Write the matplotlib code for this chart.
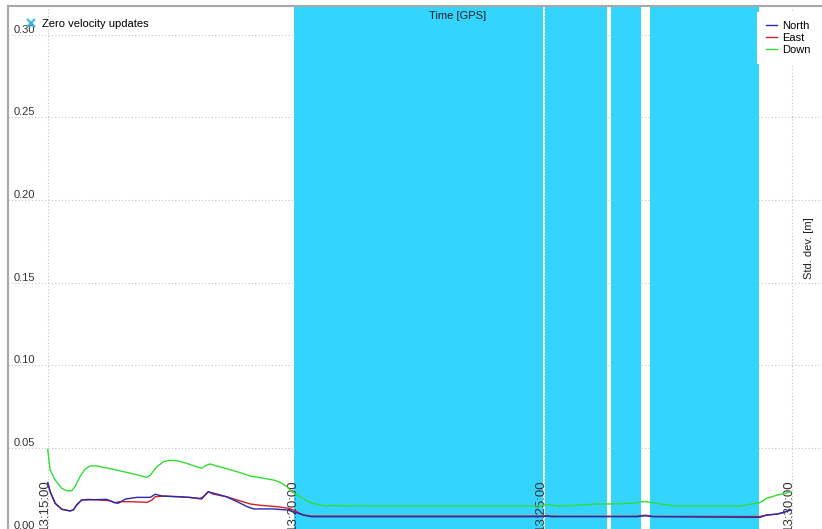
import matplotlib
matplotlib.use("Agg")
import matplotlib.pyplot as plt
import matplotlib.transforms as mtransforms
from matplotlib.lines import Line2D
import pandas as pd

plt.rcParams['font.family'] = ['Liberation Sans', 'DejaVu Sans']
plt.rcParams['font.size'] = 8

BASE = pd.Timestamp("2020-01-01 13:15:00")

# Down std. dev. [m] vs seconds after 13:15:00
down_t = [0, 3, 9, 17, 23, 29, 33, 39, 45, 51, 59, 79, 100, 120, 124, 132, 140, 147,
          156, 168, 180, 186, 190, 196, 208, 229, 245, 257, 273, 281, 289, 295, 299,
          305, 317, 333, 402, 595, 603, 616, 632, 664, 680, 704, 722, 736, 757, 837,
          861, 869, 882, 892, 898]
down_v = [0.0492, 0.0366, 0.0306, 0.0256, 0.0241, 0.0241, 0.0266, 0.0326, 0.0371,
          0.0391, 0.0391, 0.0371, 0.0347, 0.0322, 0.0336, 0.0386, 0.0417, 0.0425,
          0.0423, 0.0407, 0.0386, 0.0377, 0.0391, 0.0403, 0.0386, 0.0356, 0.0330,
          0.0320, 0.0306, 0.0292, 0.0266, 0.0235, 0.0224, 0.0205, 0.0169, 0.0151,
          0.0149, 0.0149, 0.0157, 0.0149, 0.0151, 0.0161, 0.0161, 0.0165, 0.0176,
          0.0165, 0.0149, 0.0149, 0.0169, 0.0195, 0.0215, 0.0226, 0.0235]

# East std. dev. [m]
east_t = [0, 3, 9, 17, 27, 31, 35, 41, 49, 75, 81, 87, 100, 120, 126, 130, 140, 160,
          184, 188, 194, 200, 216, 233, 245, 257, 277, 291, 297, 309, 319, 595, 603,
          610, 617, 712, 722, 732, 861, 869, 882, 892, 898]
east_v = [0.0290, 0.0235, 0.0165, 0.0129, 0.0119, 0.0125, 0.0155, 0.0185, 0.0189,
          0.0181, 0.0169, 0.0175, 0.0175, 0.0171, 0.0185, 0.0205, 0.0209, 0.0205,
          0.0195, 0.0205, 0.0235, 0.0221, 0.0205, 0.0179, 0.0161, 0.0153, 0.0145,
          0.0135, 0.0125, 0.0094, 0.0088, 0.0088, 0.0090, 0.0088, 0.0087, 0.0087,
          0.0093, 0.0086, 0.0085, 0.0094, 0.0100, 0.0114, 0.0125]

# North std. dev. [m]
north_t = [0, 3, 9, 17, 27, 31, 35, 41, 71, 81, 85, 94, 108, 124, 130, 138, 172,
           186, 194, 216, 229, 241, 249, 273, 289, 297, 309, 319, 595, 603, 610,
           617, 712, 722, 732, 861, 869, 882, 892, 898]
north_v = [0.0290, 0.0235, 0.0165, 0.0129, 0.0119, 0.0125, 0.0155, 0.0185, 0.0189,
           0.0169, 0.0165, 0.0191, 0.0201, 0.0201, 0.0220, 0.0209, 0.0201, 0.0191,
           0.0235, 0.0205, 0.0175, 0.0145, 0.0131, 0.0131, 0.0125, 0.0114, 0.0094,
           0.0084, 0.0084, 0.0087, 0.0084, 0.0084, 0.0084, 0.0090, 0.0084, 0.0080,
           0.0094, 0.0100, 0.0114, 0.0125]

# Zero velocity update intervals (seconds after 13:15:00)
zupt_start = [297.8, 601.3, 680.8, 728.3]
zupt_end = [598.3, 676.7, 717.4, 860.1]

x_ticks = ["13:15:00", "13:20:00", "13:25:00", "13:30:00"]
y_ticks = [0.00, 0.05, 0.10, 0.15, 0.20, 0.25, 0.30]
x_range = (-48, 936)
y_range = (0.0, 0.3173)


def to_time(seconds):
    return BASE + pd.to_timedelta(seconds, unit="s")


W, H = 822, 529
fig = plt.figure(figsize=(W / 100, H / 100), dpi=100)
ax_l, ax_r, ax_t, ax_b = 8, 822, 6, 530.6
ax = fig.add_axes([ax_l / W, (H - ax_b) / H, (ax_r - ax_l) / W, (ax_b - ax_t) / H])

ax.set_xlim(to_time(x_range[0]), to_time(x_range[1]))
ax.set_ylim(*y_range)

tick_times = [pd.Timestamp(f"2020-01-01 {s}") for s in x_ticks]

# dotted grid sits underneath the shaded intervals
grid_kw = dict(color="#c4c4c4", ls=(0, (1, 2)), lw=0.8, zorder=0)
for t in tick_times:
    ax.axvline(t, **grid_kw)
for v in y_ticks:
    ax.axhline(v, **grid_kw)

span_color = "#33d4fe"
for s, e in zip(zupt_start, zupt_end):
    ax.axvspan(to_time(s), to_time(e), color=span_color, lw=0, zorder=1)

ax.plot(to_time(down_t), down_v, color="#33dd33", lw=1.0, zorder=3)
ax.plot(to_time(east_t), east_v, color="#cc2222", lw=1.0, zorder=3)
ax.plot(to_time(north_t), north_v, color="#2a2aa8", lw=1.0, zorder=3)

ax.set_xticks(tick_times)
ax.set_xticklabels(x_ticks)
ax.set_yticks(y_ticks)
ax.set_yticklabels([f"{v:.2f}" for v in y_ticks])

ax.tick_params(axis="x", length=0, pad=0, labelcolor="#333333", labelsize=9.5)
ax.tick_params(axis="y", length=0, pad=-4, labelcolor="#333333", labelsize=8)
shift = mtransforms.ScaledTranslation(3 / 100, 0, fig.dpi_scale_trans)
for lbl in ax.get_xticklabels():
    lbl.set_rotation(90)
    lbl.set_ha("right")
    lbl.set_va("bottom")
    lbl.set_transform(lbl.get_transform() + shift)
for lbl in ax.get_yticklabels():
    lbl.set_ha("left")
    lbl.set_va("bottom")

for side in ("right", "bottom"):
    ax.spines[side].set_visible(False)
for side in ("left", "top"):
    ax.spines[side].set_color("#a8a8a8")
    ax.spines[side].set_linewidth(1.5)

ax.set_xlabel("Time [GPS]", color="#222222")
ax.xaxis.set_label_position("top")
ax.xaxis.set_label_coords((458 - ax_l) / (ax_r - ax_l), (ax_b - 16) / (ax_b - ax_t))
ax.xaxis.label.set_va("center")
ax.set_ylabel("Std. dev. [m]", color="#222222")
ax.yaxis.set_label_coords((809 - ax_l) / (ax_r - ax_l), (ax_b - 248) / (ax_b - ax_t))
ax.yaxis.label.set_va("center")
ax.yaxis.label.set_ha("center")

zupt_handle = Line2D([], [], marker="x", ls="none", color="#38b6e6",
                     markersize=6, markeredgewidth=1.5)
leg1 = ax.legend([zupt_handle], ["Zero velocity updates"], loc="upper left",
                 bbox_to_anchor=(25.5 / W, (H - 19) / H),
                 bbox_transform=fig.transFigure, frameon=False,
                 borderpad=0, borderaxespad=0, handlelength=1.0, handletextpad=0.5)
leg1.set_zorder(6)
ax.add_artist(leg1)

line_handles = [Line2D([], [], color="#2a2aa8", lw=1.0),
                Line2D([], [], color="#cc2222", lw=1.0),
                Line2D([], [], color="#33dd33", lw=1.0)]
leg2 = ax.legend(line_handles, ["North", "East", "Down"], loc="upper left",
                 bbox_to_anchor=(757 / W, (H - 12) / H),
                 bbox_transform=fig.transFigure, frameon=True, fancybox=False,
                 facecolor="white", edgecolor="none", framealpha=1.0,
                 borderpad=0.8, borderaxespad=0, handlelength=1.0,
                 handletextpad=0.5, labelspacing=0.19)
leg2.set_zorder(6)

fig.savefig("out.png", dpi=100)
